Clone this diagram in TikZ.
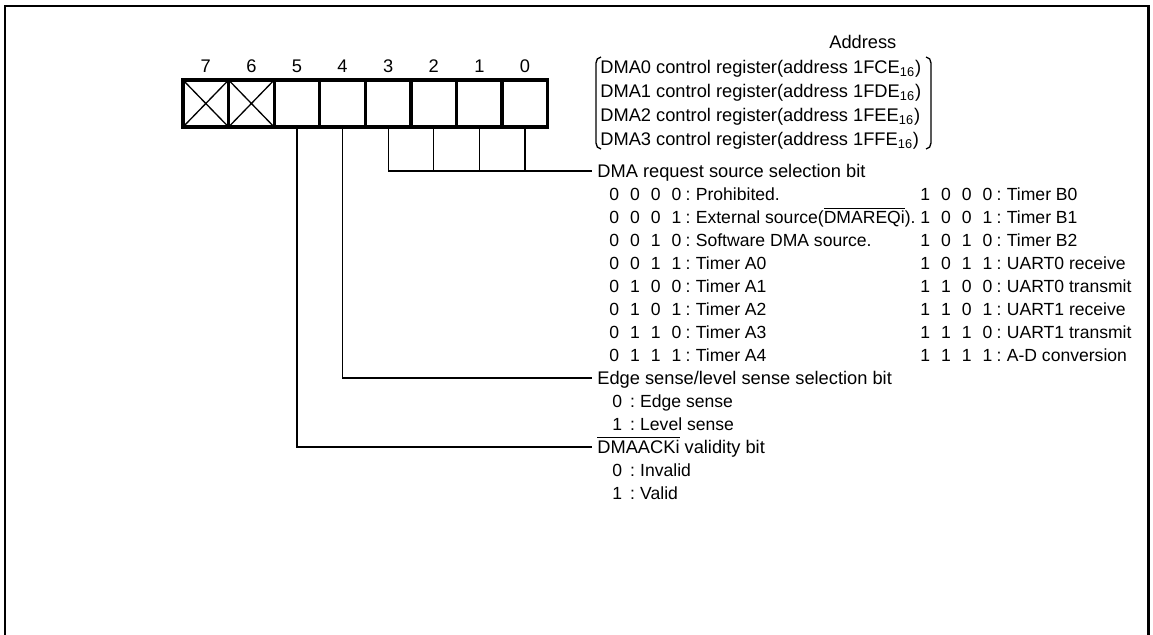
\documentclass[tikz,border=0pt]{standalone}
\usepackage{fontspec}
\setmainfont{Liberation Sans}
\usetikzlibrary{positioning}

\newcommand\bits[4]{\makebox[1.18em][l]{#1}\makebox[1.18em][l]{#2}\makebox[1.18em][l]{#3}#4\hspace{0.25em}:\hspace{0.3em}}
\newcommand\onebit[1]{#1\hspace{0.45em}:\hspace{0.3em}}
\newcommand\ovl[1]{$\overline{\mbox{#1}}$}

\begin{document}
\begin{tikzpicture}[
      x=0.02cm, y=-0.02cm,
      bitbox/.style={
        draw,
        line width=1.9pt,
        minimum width=0.912cm,
        minimum height=0.94cm,
        outer sep=0pt,
        inner sep=0pt
      },
      bitnum/.style={
        font=\fontsize{10.4}{12}\selectfont,
        inner sep=0pt,
        text height=7.4pt,
        text depth=0pt,
        above=0.15cm of #1
      },
      lbl/.style={
        anchor=west,
        font=\fontsize{10.4}{12}\selectfont,
        inner xsep=0.1cm,
        inner ysep=0pt,
        text height=7.4pt,
        text depth=0pt
      },
      row/.style={lbl,inner xsep=0pt},
      coderow/.style={row,font=\fontsize{10}{12}\selectfont},
      lead/.style={line width=0.75pt}
    ]
      \useasboundingbox (0,0) rectangle (1153,635);
      % frame, open at the bottom
      \draw[line width=1.7pt] (5,635) -- (5,6) -- (1148,6) -- (1148,635);

      % register bits
      \node[bitbox] (b7) at (205.8,103.5) {};
      \node[bitbox,right=0pt of b7] (b6) {};
      \node[bitbox,right=0pt of b6] (b5) {};
      \node[bitbox,right=0pt of b5] (b4) {};
      \node[bitbox,right=0pt of b4] (b3) {};
      \node[bitbox,right=0pt of b3] (b2) {};
      \node[bitbox,right=0pt of b2] (b1) {};
      \node[bitbox,right=0pt of b1] (b0) {};
      \draw[lead] (b7.north west) -- (b7.south east) (b7.south west) -- (b7.north east);
      \draw[lead] (b6.north west) -- (b6.south east) (b6.south west) -- (b6.north east);

      \node[bitnum=b7] (n7) {7};
      \node[bitnum=b6] (n6) {6};
      \node[bitnum=b5] (n5) {5};
      \node[bitnum=b4] (n4) {4};
      \node[bitnum=b3] (n3) {3};
      \node[bitnum=b2] (n2) {2};
      \node[bitnum=b1] (n1) {1};
      \node[bitnum=b0] (n0) {0};

      % register names
      \node[row] (addr) at (829,42) {Address};
      \node[row] (reg0) at (600,67) {DMA0 control register(address 1FCE\textsubscript{16})};
      \node[row] (reg1) at (600,91) {DMA1 control register(address 1FDE\textsubscript{16})};
      \node[row] (reg2) at (600,115) {DMA2 control register(address 1FEE\textsubscript{16})};
      \node[row] (reg3) at (600,139) {DMA3 control register(address 1FFE\textsubscript{16})};
      \draw[lead] (601,57) to[out=180,in=90] (596,63) -- (596,143) to[out=-90,in=180] (601,149);
      \draw[lead] (926,57) to[out=0,in=90] (931,63) -- (931,143) to[out=-90,in=0] (926,149);

      % bits 3-0
      \node[lbl] (reqsel) at (592,171) {DMA request source selection bit};
      \node[coderow] (src0) at (609,194) {\bits0000Prohibited.};
      \node[coderow] (src1) at (609,217) {\bits0001External source(\ovl{DMAREQi}).};
      \node[coderow] (src2) at (609,240) {\bits0010Software DMA source.};
      \node[coderow] (src3) at (609,263) {\bits0011Timer A0};
      \node[coderow] (src4) at (609,286) {\bits0100Timer A1};
      \node[coderow] (src5) at (609,309) {\bits0101Timer A2};
      \node[coderow] (src6) at (609,332) {\bits0110Timer A3};
      \node[coderow] (src7) at (609,355) {\bits0111Timer A4};
      \node[coderow] (src8) at (920,194) {\bits1000Timer B0};
      \node[coderow] (src9) at (920,217) {\bits1001Timer B1};
      \node[coderow] (src10) at (920,240) {\bits1010Timer B2};
      \node[coderow] (src11) at (920,263) {\bits1011UART0 receive};
      \node[coderow] (src12) at (920,286) {\bits1100UART0 transmit};
      \node[coderow] (src13) at (920,309) {\bits1101UART1 receive};
      \node[coderow] (src14) at (920,332) {\bits1110UART1 transmit};
      \node[coderow] (src15) at (920,355) {\bits1111A-D conversion};

      % bit 4
      \node[lbl] (edgesel) at (592,378) {Edge sense/level sense selection bit};
      \node[coderow] (edge0) at (612,401) {\onebit0Edge sense};
      \node[coderow] (edge1) at (612,424) {\onebit1Level sense};

      % bit 5
      \node[lbl] (ackval) at (592,447) {\ovl{DMAACKi} validity bit};
      \node[coderow] (ack0) at (612,470) {\onebit0Invalid};
      \node[coderow] (ack1) at (612,493) {\onebit1Valid};

      \draw[lead] (b3.south) |- (reqsel.west);
      \draw[lead] (b2.south) -- (b2.south |- reqsel.west);
      \draw[lead] (b1.south) -- (b1.south |- reqsel.west);
      \draw[lead] (b0.south) -- (b0.south |- reqsel.west);
      \draw[lead] (b4.south) |- (edgesel.west);
      \draw[lead] (b5.south) |- (ackval.west);
    \end{tikzpicture}
\end{document}
